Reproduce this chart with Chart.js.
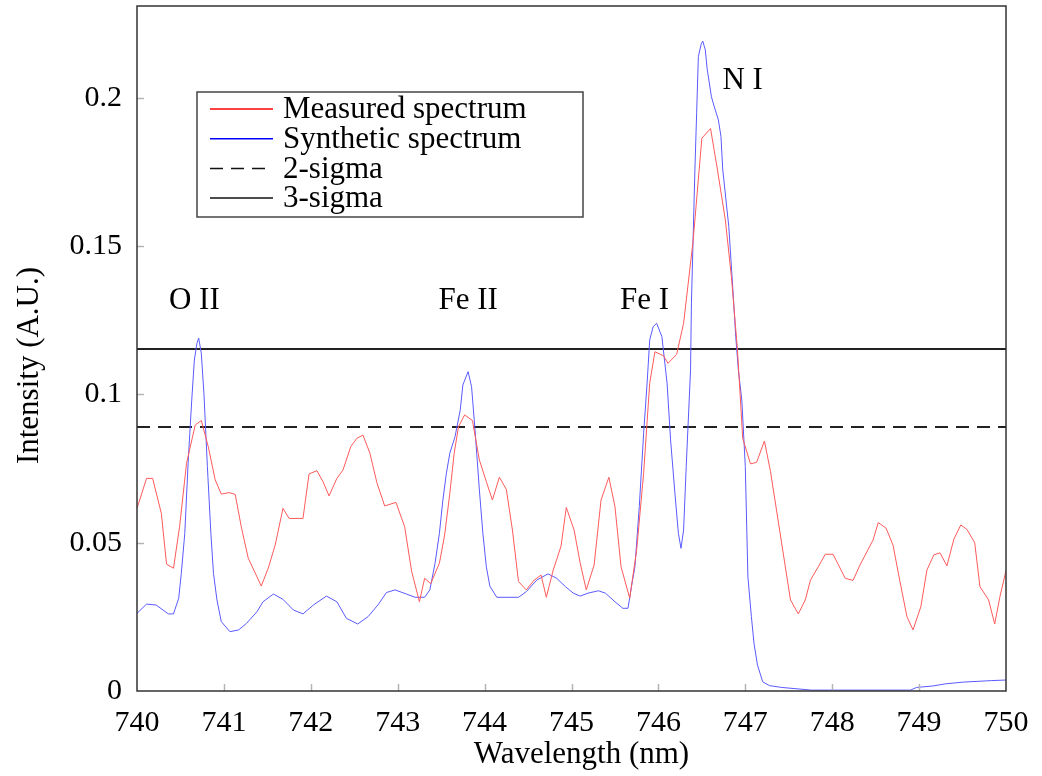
<!DOCTYPE html>
<html>
<head>
<meta charset="utf-8">
<script src="https://cdn.jsdelivr.net/npm/chart.js@4.4.1/dist/chart.umd.min.js"></script>
<style>
  body { margin: 0; background: #fff; }
  #wrap { width: 1042px; height: 776px; }
</style>
</head>
<body>
<div id="wrap"><canvas id="spectre" width="1042" height="776"></canvas></div>
<script>
// ========== DONNEES ==========
// Spectre mesuré (longueur d'onde en nm, intensité)
const measuredWl = [740.00, 740.11, 740.18, 740.28, 740.34, 740.42, 740.49, 740.57, 740.67, 740.74,
    740.82, 740.90, 740.97, 741.06, 741.13, 741.20, 741.28, 741.43, 741.51, 741.59,
    741.68, 741.75, 741.91, 741.98, 742.07, 742.14, 742.21, 742.30, 742.37, 742.46,
    742.53, 742.60, 742.68, 742.76, 742.85, 742.98, 743.08, 743.16, 743.25, 743.31,
    743.38, 743.48, 743.54, 743.60, 743.65, 743.70, 743.77, 743.86, 743.94, 744.02,
    744.09, 744.17, 744.25, 744.32, 744.39, 744.48, 744.57, 744.65, 744.71, 744.79,
    744.88, 744.94, 745.03, 745.10, 745.17, 745.26, 745.34, 745.43, 745.50, 745.57,
    745.67, 745.75, 745.83, 745.90, 745.96, 746.06, 746.11, 746.21, 746.29, 746.40,
    746.50, 746.60, 746.68, 746.77, 746.84, 746.91, 746.97, 747.06, 747.13, 747.22,
    747.29, 747.52, 747.61, 747.69, 747.75, 747.84, 747.92, 748.01, 748.15, 748.24,
    748.32, 748.47, 748.53, 748.62, 748.70, 748.78, 748.86, 748.93, 749.02, 749.09,
    749.17, 749.24, 749.32, 749.40, 749.48, 749.55, 749.64, 749.70, 749.80, 749.87,
    749.93, 750.00];
const measuredInt = [0.0616, 0.0717, 0.0717, 0.0599, 0.0428, 0.0414, 0.0554, 0.0768, 0.0897, 0.0912,
    0.0824, 0.0712, 0.0664, 0.0669, 0.0663, 0.0554, 0.0448, 0.0354, 0.0414, 0.0492,
    0.0616, 0.0582, 0.0582, 0.0732, 0.0743, 0.0706, 0.0658, 0.0717, 0.0745, 0.0824,
    0.0852, 0.0863, 0.0802, 0.0703, 0.0624, 0.0636, 0.0554, 0.0404, 0.0301, 0.0380,
    0.0362, 0.0431, 0.0526, 0.0667, 0.0802, 0.0891, 0.0931, 0.0912, 0.0779, 0.0706,
    0.0644, 0.0721, 0.0680, 0.0543, 0.0369, 0.0341, 0.0374, 0.0391, 0.0316, 0.0408,
    0.0489, 0.0619, 0.0543, 0.0431, 0.0341, 0.0425, 0.0644, 0.0721, 0.0622, 0.0419,
    0.0313, 0.0476, 0.0734, 0.1038, 0.1144, 0.1130, 0.1105, 0.1135, 0.1240, 0.1520,
    0.1864, 0.1897, 0.1757, 0.1589, 0.1397, 0.1150, 0.0852, 0.0766, 0.0771, 0.0843,
    0.0740, 0.0307, 0.0260, 0.0307, 0.0374, 0.0419, 0.0461, 0.0461, 0.0380, 0.0373,
    0.0425, 0.0509, 0.0568, 0.0549, 0.0492, 0.0369, 0.0251, 0.0206, 0.0284, 0.0408,
    0.0459, 0.0466, 0.0422, 0.0512, 0.0560, 0.0545, 0.0500, 0.0352, 0.0307, 0.0226,
    0.0318, 0.0406];

// Spectre synthétique
const syntheticWl = [740.00, 740.11, 740.22, 740.30, 740.36, 740.42, 740.48, 740.51, 740.55, 740.59,
    740.63, 740.66, 740.69, 740.71, 740.74, 740.77, 740.81, 740.85, 740.88, 740.92,
    740.97, 741.07, 741.17, 741.26, 741.38, 741.45, 741.57, 741.68, 741.80, 741.91,
    742.03, 742.18, 742.30, 742.41, 742.54, 742.66, 742.78, 742.87, 742.97, 743.10,
    743.20, 743.31, 743.37, 743.43, 743.48, 743.52, 743.56, 743.60, 743.66, 743.72,
    743.75, 743.81, 743.85, 743.89, 743.94, 743.98, 744.02, 744.06, 744.14, 744.39,
    744.48, 744.60, 744.73, 744.83, 744.93, 745.02, 745.10, 745.19, 745.31, 745.39,
    745.50, 745.59, 745.65, 745.69, 745.73, 745.78, 745.83, 745.87, 745.90, 745.94,
    745.98, 746.04, 746.10, 746.14, 746.19, 746.23, 746.26, 746.29, 746.32, 746.37,
    746.38, 746.40, 746.42, 746.44, 746.46, 746.49, 746.51, 746.54, 746.56, 746.61,
    746.64, 746.69, 746.72, 746.74, 746.81, 746.86, 746.89, 746.92, 746.96, 747.00,
    747.03, 747.07, 747.10, 747.14, 747.20, 747.28, 747.42, 747.76, 748.90, 748.97,
    749.16, 749.30, 749.51, 749.83, 750.00];
const syntheticInt = [0.0262, 0.0293, 0.0290, 0.0273, 0.0260, 0.0260, 0.0313, 0.0397, 0.0532, 0.0779,
    0.0981, 0.1116, 0.1173, 0.1190, 0.1139, 0.1004, 0.0757, 0.0532, 0.0397, 0.0307,
    0.0234, 0.0200, 0.0206, 0.0228, 0.0267, 0.0301, 0.0327, 0.0309, 0.0273, 0.0260,
    0.0290, 0.0320, 0.0301, 0.0245, 0.0226, 0.0251, 0.0293, 0.0332, 0.0341, 0.0327,
    0.0316, 0.0316, 0.0341, 0.0431, 0.0532, 0.0644, 0.0734, 0.0802, 0.0858, 0.0948,
    0.1032, 0.1077, 0.1026, 0.0880, 0.0678, 0.0532, 0.0419, 0.0354, 0.0316, 0.0316,
    0.0335, 0.0374, 0.0395, 0.0380, 0.0352, 0.0330, 0.0320, 0.0330, 0.0338, 0.0330,
    0.0301, 0.0279, 0.0279, 0.0352, 0.0419, 0.0622, 0.0869, 0.1038, 0.1184, 0.1229,
    0.1240, 0.1195, 0.1038, 0.0847, 0.0667, 0.0532, 0.0481, 0.0543, 0.0757, 0.1083,
    0.1308, 0.1532, 0.1757, 0.1948, 0.2139, 0.2179, 0.2192, 0.2162, 0.2100, 0.2004,
    0.1973, 0.1926, 0.1870, 0.1760, 0.1566, 0.1341, 0.1195, 0.1083, 0.0981, 0.0757,
    0.0385, 0.0251, 0.0161, 0.0088, 0.0031, 0.0018, 0.0012, 0.0003, 0.0003, 0.0012,
    0.0017, 0.0024, 0.0030, 0.0035, 0.0037];

// Seuils
const sigmaNames = ['2-sigma', '3-sigma'];
const sigmaLevels = [0.089, 0.1153];
const wlRange = [740, 750];

// Graduations
const xTicks = [740, 741, 742, 743, 744, 745, 746, 747, 748, 749, 750];
const yTicks = [0, 0.05, 0.1, 0.15, 0.2];
const yTickLabels = ['0', '0.05', '0.1', '0.15', '0.2'];

// Étiquettes des raies
const lineNames = ['O II', 'Fe II', 'Fe I', 'N I'];
const lineLabelWl = [740.66, 743.81, 745.84, 746.97];
const lineLabelInt = [0.1315, 0.1315, 0.1315, 0.2057];

const seriesNames = ['Measured spectrum', 'Synthetic spectrum'];

// ========== CONSTRUCTION ==========
const serif = 'Liberation Serif, Times New Roman, serif';
const toPoints = (xs, ys) => xs.map((x, i) => ({ x: x, y: ys[i] }));
const flat = (v) => wlRange.map(x => ({ x: x, y: v }));

// Plugin : cadre, graduations intérieures, titres, étiquettes et légende
const decorPlugin = {
    id: 'decorPlugin',
    afterDraw: (chart) => {
        const ctx = chart.ctx;
        const a = chart.chartArea;
        const xs = chart.scales.x;
        const ys = chart.scales.y;

        ctx.save();
        // petites graduations vers l'intérieur
        ctx.strokeStyle = '#b4b4b4';
        ctx.lineWidth = 1.5;
        xTicks.slice(1, -1).forEach(v => {
            const px = Math.round(xs.getPixelForValue(v)) + 0.5;
            ctx.beginPath();
            ctx.moveTo(px, a.bottom);
            ctx.lineTo(px, a.bottom - 7);
            ctx.stroke();
        });
        yTicks.slice(1).forEach(v => {
            const py = Math.round(ys.getPixelForValue(v)) + 0.5;
            ctx.beginPath();
            ctx.moveTo(a.left, py);
            ctx.lineTo(a.left + 7, py);
            ctx.stroke();
        });

        // cadre
        ctx.strokeStyle = '#333';
        ctx.lineWidth = 1.5;
        ctx.strokeRect(a.left, a.top, a.right - a.left, a.bottom - a.top);

        // titres des axes
        ctx.fillStyle = '#000';
        ctx.font = '31px ' + serif;
        ctx.textAlign = 'center';
        ctx.textBaseline = 'middle';
        ctx.fillText('Wavelength (nm)', (a.left + a.right) / 2 + 10, a.bottom + 64);
        ctx.save();
        ctx.translate(30, (a.top + a.bottom) / 2 + 17);
        ctx.rotate(-Math.PI / 2);
        ctx.fillText('Intensity (A.U.)', 0, 0);
        ctx.restore();

        // étiquettes des raies
        lineNames.forEach((name, i) => {
            ctx.fillText(name, xs.getPixelForValue(lineLabelWl[i]), ys.getPixelForValue(lineLabelInt[i]));
        });

        // légende
        const bx = a.left + 60, by = a.top + 86, bw = 386, bh = 125;
        ctx.fillStyle = '#fff';
        ctx.fillRect(bx, by, bw, bh);
        ctx.strokeStyle = '#444';
        ctx.lineWidth = 1.5;
        ctx.strokeRect(bx, by, bw, bh);
        const entries = [
            { label: seriesNames[0], color: '#ff0000', dash: [] },
            { label: seriesNames[1], color: '#0000ff', dash: [] },
            { label: sigmaNames[0], color: '#111', dash: [13, 8] },
            { label: sigmaNames[1], color: '#111', dash: [] }
        ];
        ctx.textAlign = 'left';
        entries.forEach((e, i) => {
            const ry = by + 17 + i * 29.7;
            ctx.strokeStyle = e.color;
            ctx.lineWidth = 1.5;
            ctx.setLineDash(e.dash);
            ctx.beginPath();
            ctx.moveTo(bx + 13, ry);
            ctx.lineTo(bx + 76, ry);
            ctx.stroke();
            ctx.setLineDash([]);
            ctx.fillStyle = '#000';
            ctx.fillText(e.label, bx + 86, ry + 1);
        });
        ctx.restore();
    }
};

let ctx = document.getElementById('spectre').getContext('2d');

let graph = new Chart(ctx, {
    type: 'line',
    data: {
        datasets: [
            {
                label: seriesNames[0],
                data: toPoints(measuredWl, measuredInt),
                borderColor: '#ff5a5a',
                borderWidth: 1,
                pointRadius: 0,
                tension: 0
            },
            {
                label: seriesNames[1],
                data: toPoints(syntheticWl, syntheticInt),
                borderColor: '#5a5aff',
                borderWidth: 1,
                pointRadius: 0,
                tension: 0
            },
            {
                label: sigmaNames[0],
                data: flat(sigmaLevels[0]),
                borderColor: '#222',
                borderWidth: 2,
                borderDash: [13, 8],
                pointRadius: 0
            },
            {
                label: sigmaNames[1],
                data: flat(sigmaLevels[1]),
                borderColor: '#222',
                borderWidth: 2,
                pointRadius: 0
            }
        ]
    },
    options: {
        responsive: false,
        animation: false,
        devicePixelRatio: 1,
        layout: {
            padding: { left: 0, top: 6, right: 36, bottom: 0 }
        },
        plugins: {
            legend: { display: false },
            tooltip: { enabled: false }
        },
        scales: {
            x: {
                type: 'linear',
                min: wlRange[0],
                max: wlRange[1],
                afterBuildTicks: (scale) => { scale.ticks = xTicks.map(v => ({ value: v })); },
                afterFit: (scale) => {
                    scale.height = 85;
                    scale.paddingLeft = 0;
                    scale.paddingRight = 0;
                },
                grid: { drawOnChartArea: false, drawTicks: false },
                border: { display: false },
                ticks: {
                    color: '#000',
                    padding: 14,
                    maxRotation: 0,
                    autoSkip: false,
                    font: { family: serif, size: 30 }
                }
            },
            y: {
                min: 0,
                max: 0.231,
                afterBuildTicks: (scale) => { scale.ticks = yTicks.map(v => ({ value: v })); },
                afterFit: (scale) => {
                    scale.width = 137;
                    scale.paddingTop = 0;
                    scale.paddingBottom = 0;
                },
                grid: { drawOnChartArea: false, drawTicks: false },
                border: { display: false },
                ticks: {
                    color: '#000',
                    padding: 15,
                    font: { family: serif, size: 30 },
                    callback: (v) => yTickLabels[yTicks.indexOf(v)]
                }
            }
        }
    },
    plugins: [decorPlugin]
});
</script>
</body>
</html>
